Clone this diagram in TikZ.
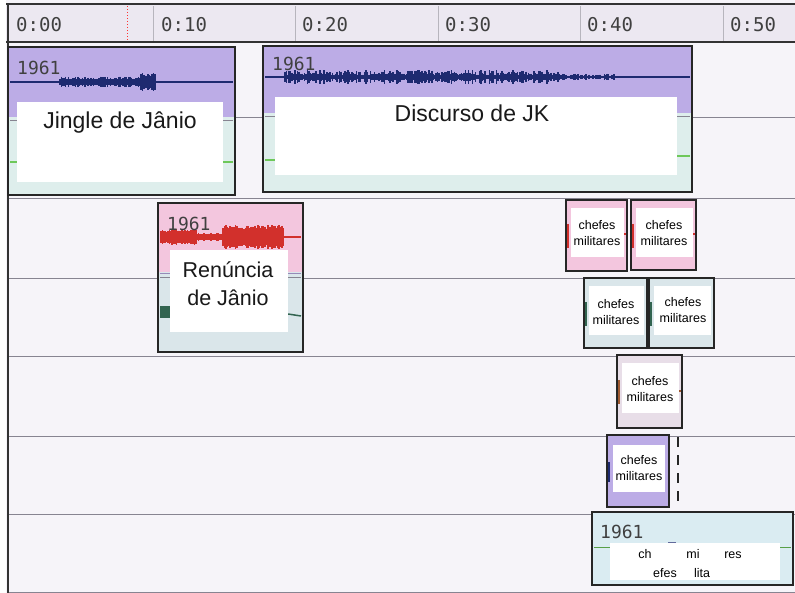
\documentclass[tikz,border=0pt]{standalone}
\usepackage{fontspec}
\setmainfont{Liberation Sans}
\newfontfamily\monofont{DejaVu Sans Mono}
\usetikzlibrary{calc}

\definecolor{rulerbg}{RGB}{236,232,241}
\definecolor{trackbg}{RGB}{246,244,249}
\definecolor{gridline}{RGB}{135,132,145}
\definecolor{clippurple}{RGB}{188,172,230}
\definecolor{clippink}{RGB}{243,198,222}
\definecolor{clipmint}{RGB}{222,238,236}
\definecolor{clipgrey}{RGB}{218,230,234}
\definecolor{clipmauve}{RGB}{232,222,232}
\definecolor{clipsky}{RGB}{218,236,242}
\definecolor{wavblue}{RGB}{30,42,112}
\definecolor{wavred}{RGB}{210,48,44}
\definecolor{wavgreen}{RGB}{110,200,90}
\definecolor{wavdkgreen}{RGB}{50,100,80}
\definecolor{wavbrown}{RGB}{160,90,50}

\tikzstyle{frame} = [draw=black!85, line width=2.8pt]
\tikzstyle{trackline} = [draw=gridline, line width=1pt]
\tikzstyle{rulertick} = [draw=gridline!60, line width=0.8pt]
\tikzstyle{timelabel} = [anchor=west, text=black!75, font=\monofont\fontsize{19}{19}\selectfont, inner sep=0pt]
\tikzstyle{yearlabel} = [anchor=west, text=black!75, font=\monofont\fontsize{18}{18}\selectfont, inner sep=0pt]
\tikzstyle{cliptitle} = [text=black!90, font=\fontsize{23}{28}\selectfont, align=center, inner sep=0pt]
\tikzstyle{cheftext} = [text=black, font=\fontsize{12.5}{16.5}\selectfont, align=center, inner sep=0pt]

\begin{document}
\begin{tikzpicture}[x=1pt, y=-1pt]

        \useasboundingbox (0,0) rectangle (795,593);
        \fill[trackbg] (0,0) rectangle (795,593);
        \fill[white] (0,0) rectangle (6,593);

        %% ruler

        \fill[rulerbg] (6,4) rectangle (795,42);
        \draw[line width=2pt, black!80] (6,4) -- (795,4);
        \draw[line width=2.2pt, black!80] (6,42) -- (795,42);
        \foreach \t in {153,295,438,580,723}
            \draw[rulertick] (\t,6) -- (\t,41);
        \draw[red!80, dotted, line width=1pt] (127,6) -- (127,41);

        \node (t00) [timelabel] at (16,25) {0:00};
        \node (t10) [timelabel] at (161,25) {0:10};
        \node (t20) [timelabel] at (302,25) {0:20};
        \node (t30) [timelabel] at (445,25) {0:30};
        \node (t40) [timelabel] at (587,25) {0:40};
        \node (t50) [timelabel] at (730,25) {0:50};

        %% tracks

        \foreach \y in {118,199,279,357,436,514,592}
            \draw[trackline] (8,\y) -- (795,\y);
        \draw[line width=2.5pt, black!80] (8,4) -- (8,593);

        %% Jingle

        \fill[clipmint] (8,47) rectangle (235,195);
        \fill[clippurple] (8,47) rectangle (235,117);
        \draw[gridline, line width=0.6pt] (10,120) -- (233,120);
        \draw[wavblue, line width=1.4pt] (10,82) -- (233,82);
        \pgfmathsetseed{1961}
        \foreach \x in {60,61.4,...,140} {
            \pgfmathsetmacro{\amp}{2.5+3*rnd}
            \draw[wavblue, line width=1.7pt] (\x,82-\amp) -- (\x,82+\amp);
        }
        \foreach \x in {141,142.4,...,156} {
            \pgfmathsetmacro{\amp}{6+4*rnd}
            \draw[wavblue, line width=1.7pt] (\x,82-\amp) -- (\x,82+\amp);
        }
        \draw[wavgreen, line width=1.5pt] (10,162) -- (17,162);
        \draw[wavgreen, line width=1.5pt] (223,162) -- (233,162);
        \fill[white] (17,102) rectangle (223,182);
        \node (jingleYear) [yearlabel] at (17,68) {1961};
        \node (jingle) [cliptitle] at (120,123) {Jingle de Jânio};
        \draw[frame] (8,47) rectangle (235,195);

        %% Discurso

        \fill[clipmint] (263,46) rectangle (692,192);
        \fill[clippurple] (263,46) rectangle (692,113);
        \draw[gridline, line width=0.6pt] (265,116) -- (690,116);
        \draw[wavblue, line width=1.4pt] (265,77) -- (690,77);
        \foreach \x in {285,286.4,...,560} {
            \pgfmathsetmacro{\amp}{2+5*rnd}
            \draw[wavblue, line width=1.7pt] (\x,77-\amp) -- (\x,77+\amp);
        }
        \foreach \x in {561,562.4,...,615} {
            \pgfmathsetmacro{\amp}{1+2.5*rnd}
            \draw[wavblue, line width=1.7pt] (\x,77-\amp) -- (\x,77+\amp);
        }
        \draw[wavgreen, line width=1.5pt] (265,160) -- (275,160);
        \draw[wavgreen, line width=1.5pt] (677,156) -- (690,156);
        \fill[white] (275,97) rectangle (677,175);
        \node (jkYear) [yearlabel] at (272,64) {1961};
        \node (discurso) [cliptitle] at (472,113) {Discurso de JK};
        \draw[frame] (263,46) rectangle (692,192);

        %% Renuncia

        \fill[clipgrey] (158,203) rectangle (303,352);
        \fill[clippink] (158,203) rectangle (303,272);
        \draw[clippurple!80!black, line width=0.8pt] (160,273) -- (301,273);
        \draw[gridline, line width=0.6pt] (160,277) -- (301,277);
        \draw[wavred, line width=1.4pt] (160,237) -- (301,237);
        \foreach \x in {161,162.4,...,196} {
            \pgfmathsetmacro{\amp}{5+3*rnd}
            \draw[wavred, line width=1.7pt] (\x,237-\amp) -- (\x,237+\amp);
        }
        \foreach \x in {197,198.4,...,222} {
            \pgfmathsetmacro{\amp}{2.5+2*rnd}
            \draw[wavred, line width=1.7pt] (\x,237-\amp) -- (\x,237+\amp);
        }
        \foreach \x in {223,224.4,...,284} {
            \pgfmathsetmacro{\amp}{8+4*rnd}
            \draw[wavred, line width=1.7pt] (\x,237-\amp) -- (\x,237+\amp);
        }
        \fill[wavdkgreen] (160,306) rectangle (170,318);
        \draw[wavdkgreen, line width=1.5pt] (288,314) -- (301,316);
        \fill[white] (170,250) rectangle (288,332);
        \node (renYear) [yearlabel] at (167,224) {1961};
        \node (renuncia) [cliptitle, font=\fontsize{21.5}{28}\selectfont] at (228,284) {Renúncia\\de Jânio};
        \draw[frame] (158,203) rectangle (303,352);

        %% chefes militares

        \fill[clippink] (566,200) rectangle (627,271);
        \fill[white] (571,208) rectangle (624,257);
        \draw[wavred, line width=2.5pt] (568,224) -- (568,248);
        \draw[wavred, line width=1.5pt] (624,234) -- (627,234);
        \node (chefA) [cheftext] at (597,233) {chefes\\militares};
        \draw[frame] (566,200) rectangle (627,271);

        \fill[clippink] (631,200) rectangle (696,270);
        \fill[white] (636,208) rectangle (693,257);
        \draw[wavred, line width=2.5pt] (633,224) -- (633,248);
        \draw[wavred, line width=1.5pt] (693,234) -- (696,234);
        \node (chefB) [cheftext] at (664,233) {chefes\\militares};
        \draw[frame] (631,200) rectangle (696,270);

        \fill[clipgrey] (584,278) rectangle (647,348);
        \fill[white] (589,286) rectangle (644,335);
        \draw[wavdkgreen, line width=2.5pt] (586,302) -- (586,326);
        \node (chefC) [cheftext] at (616,312) {chefes\\militares};
        \draw[frame] (584,278) rectangle (647,348);

        \fill[clipgrey] (649,278) rectangle (714,348);
        \fill[white] (654,286) rectangle (711,335);
        \draw[wavdkgreen, line width=2.5pt] (651,302) -- (651,326);
        \node (chefD) [cheftext] at (683,310) {chefes\\militares};
        \draw[frame] (649,278) rectangle (714,348);

        \fill[clipmauve] (617,355) rectangle (682,428);
        \fill[white] (622,363) rectangle (679,413);
        \draw[wavbrown, line width=2pt] (619,380) -- (619,404);
        \draw[wavbrown, line width=1.5pt] (679,391) -- (682,391);
        \node (chefE) [cheftext] at (650,389) {chefes\\militares};
        \draw[frame] (617,355) rectangle (682,428);

        \fill[clippurple] (607,435) rectangle (669,507);
        \fill[white] (613,445) rectangle (665,492);
        \draw[wavblue, line width=2pt] (609,462) -- (609,482);
        \node (chefF) [cheftext] at (639,468) {chefes\\militares};
        \draw[frame] (607,435) rectangle (669,507);
        \draw[black!85, line width=2.6pt, dash pattern=on 10pt off 8pt] (678,437) -- (678,502);

        \fill[clipsky] (592,512) rectangle (793,585);
        \draw[wavgreen!80!black, line width=1pt] (594,547) -- (791,547);
        \draw[wavblue!70, line width=1.5pt] (668,543) -- (676,543);
        \fill[white] (610,543) rectangle (780,580);
        \node (chefYear) [yearlabel] at (600,532) {1961};
        \node (chefG1) [cheftext, anchor=base] at (645,558) {ch};
        \node (chefG2) [cheftext, anchor=base] at (693,558) {mi};
        \node (chefG3) [cheftext, anchor=base] at (733,558) {res};
        \node (chefG4) [cheftext, anchor=base] at (665,577) {efes};
        \node (chefG5) [cheftext, anchor=base] at (702,577) {lita};
        \draw[frame] (592,512) rectangle (793,585);

\end{tikzpicture}
\end{document}
